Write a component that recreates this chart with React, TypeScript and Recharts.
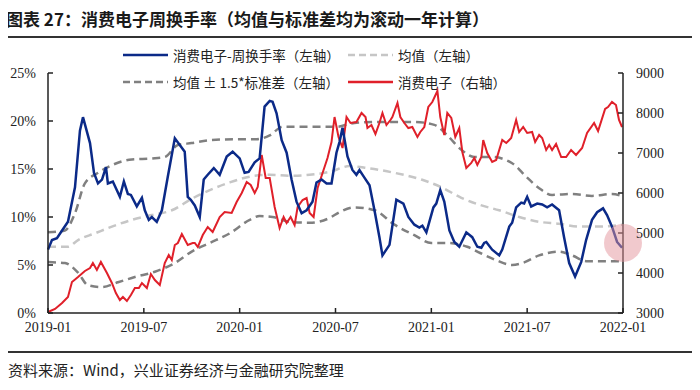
import React from "react";
import { LineChart, Line, XAxis, YAxis, ReferenceDot } from "recharts";

// x is months since 2019-01
const xTicks = [0, 6, 12, 18, 24, 30, 36];
const xTickLabels = ["2019-01", "2019-07", "2020-01", "2020-07", "2021-01", "2021-07", "2022-01"];
const leftTicks = [0, 5, 10, 15, 20, 25];
const rightTicks = [3000, 4000, 5000, 6000, 7000, 8000, 9000];

// 消费电子-周换手率 (%)
const turnover: [number, number][] = [
  [0, 6.6], [0.25, 7.6], [0.56, 7.8], [0.88, 8.6], [1.25, 9.5], [1.69, 13.1], [2.0, 19], [2.19, 20.4],
  [2.63, 17.7], [2.88, 14.6], [3.13, 13.5], [3.38, 13.9], [3.63, 15.2], [3.75, 13.5], [4.06, 13.7],
  [4.5, 12.1], [4.75, 13.7], [5.0, 12.4], [5.19, 12.3], [5.56, 11.1], [5.88, 12.0], [6.06, 10.7],
  [6.31, 9.7], [6.5, 10.0], [6.81, 9.5], [7.13, 10.7], [7.5, 14.2], [7.94, 18.2], [8.25, 17.5],
  [8.56, 16.8], [8.75, 12.1], [8.94, 11.8], [9.19, 11.2], [9.5, 10.0], [9.75, 13.9], [10.0, 14.4],
  [10.38, 15.1], [10.75, 14.4], [11.19, 16.3], [11.56, 16.8], [12.0, 16.1], [12.31, 14.6], [12.56, 14.7],
  [12.94, 15.7], [13.25, 16.1], [13.56, 21.5], [13.88, 22.1], [14.06, 22.0], [14.31, 20.8], [14.63, 18.0],
  [14.94, 16.7], [15.25, 13.9], [15.56, 11.6], [15.88, 10.4], [16.19, 10.7], [16.56, 11.6], [16.81, 13.6],
  [17.13, 13.9], [17.44, 13.5], [17.75, 13.5], [18.06, 16.7], [18.25, 17.8], [18.44, 19.3], [18.75, 16.3],
  [19.06, 14.9], [19.31, 14.4], [19.5, 14.9], [19.81, 14.1], [20.13, 13.3], [20.44, 10.7], [20.75, 7.9],
  [20.94, 6.0], [21.38, 7.1], [21.81, 11.8], [22.25, 11.4], [22.56, 10.0], [22.94, 9.2], [23.25, 8.9],
  [23.44, 9.1], [23.69, 8.4], [24.13, 11.0], [24.31, 11.4], [24.56, 12.8], [24.81, 11.6], [25.13, 8.6],
  [25.44, 7.4], [25.75, 6.9], [26.19, 8.4], [26.56, 7.9], [26.88, 6.9], [27.13, 6.8], [27.31, 7.3],
  [27.44, 7.4], [27.81, 6.6], [28.25, 6.0], [28.44, 6.6], [28.88, 9.0], [29.06, 9.4], [29.31, 11.0],
  [29.63, 11.5], [29.81, 11.4], [30.0, 12.1], [30.25, 11.1], [30.63, 11.4], [30.94, 11.3], [31.25, 11.0],
  [31.56, 11.3], [32.0, 10.7], [32.31, 7.9], [32.63, 5.2], [33.0, 3.8], [33.38, 5.3], [33.69, 7.6],
  [34.06, 9.7], [34.38, 10.5], [34.75, 10.9], [35.0, 10.2], [35.31, 9.0], [35.63, 7.4], [35.94, 6.8],
];

// 均值 (%)
const meanLine: [number, number][] = [
  [0, 6.9], [1.25, 6.9], [1.88, 7.6], [2.94, 8.3], [4.0, 9.0], [5.25, 9.7], [6.5, 10.2], [7.75, 10.7],
  [9.0, 11.9], [10.13, 12.8], [11.38, 13.6], [12.63, 14.2], [13.88, 14.4], [15.13, 14.3], [16.38, 14.4],
  [17.63, 14.7], [18.88, 15.3], [20.0, 15.1], [21.69, 14.6], [23.38, 13.9], [24.63, 13.1], [25.88, 12.0],
  [27.06, 11.25], [28.25, 10.7], [29.5, 10.0], [30.75, 9.5], [32.0, 9.3], [33.25, 9.0], [34.5, 9.0],
  [35.94, 9.2],
];

// 均值 + 1.5*标准差 (%)
const upperBand: [number, number][] = [
  [0, 8.4], [1.06, 8.6], [1.69, 10.4], [2.31, 13.5], [3.13, 14.6], [4.0, 15.4], [5.25, 16.0], [6.5, 16.1],
  [7.31, 16.25], [8.13, 17.5], [9.0, 17.7], [10.13, 18.0], [11.81, 18.1], [13.06, 18.1], [13.88, 18.5],
  [14.69, 19.4], [16.19, 19.4], [18.06, 19.4], [19.19, 19.8], [20.88, 19.9], [22.94, 19.9], [24.19, 19.6],
  [25.0, 18.5], [25.88, 17.0], [26.69, 16.25], [27.81, 16.25], [29.06, 15.6], [29.94, 14.2], [30.75, 13.0],
  [31.56, 12.3], [32.81, 12.4], [34.06, 12.2], [35.31, 12.4], [35.94, 12.2],
];

// 均值 - 1.5*标准差 (%)
const lowerBand: [number, number][] = [
  [0, 5.3], [1.06, 5.2], [1.88, 4.2], [2.5, 2.9], [3.38, 2.7], [4.38, 3.2], [5.44, 3.75], [6.69, 4.3],
  [7.94, 5.2], [9.0, 6.4], [10.13, 7.3], [11.38, 8.3], [12.63, 9.7], [13.25, 10.1], [14.06, 10.0],
  [15.13, 9.5], [16.38, 9.4], [17.63, 9.9], [18.25, 10.5], [19.19, 11.0], [20.44, 10.7], [21.69, 9.2],
  [22.94, 8.1], [24.0, 7.3], [25.0, 7.3], [26.25, 6.9], [27.06, 6.25], [28.06, 5.5], [29.06, 5.0],
  [29.69, 5.2], [30.75, 6.0], [32.0, 6.4], [32.81, 6.0], [33.69, 5.4], [34.94, 5.4], [35.94, 5.4],
];

// 消费电子指数 (右轴)
const index: [number, number][] = [
  [0, 3025], [0.44, 3100], [0.88, 3250], [1.25, 3400], [1.5, 3775], [1.88, 3900], [2.31, 4050], [2.63, 4125],
  [2.81, 4250], [3.06, 4075], [3.31, 4275], [3.69, 4000], [4.0, 3750], [4.25, 3500], [4.5, 3325], [4.69, 3400],
  [4.94, 3300], [5.19, 3450], [5.44, 3625], [5.69, 3625], [5.88, 3750], [6.19, 3625], [6.44, 3975], [6.69, 3825],
  [7.0, 3700], [7.31, 4250], [7.56, 4450], [7.75, 4325], [7.94, 4700], [8.13, 4750], [8.38, 4975], [8.75, 4700],
  [9.06, 4750], [9.19, 4750], [9.38, 4650], [9.69, 4950], [10.0, 5150], [10.31, 5025], [10.75, 5400],
  [11.06, 5525], [11.5, 5500], [11.81, 5775], [12.13, 6000], [12.44, 6275], [12.69, 6200], [12.94, 6000],
  [13.13, 6150], [13.38, 6950], [13.63, 6375], [13.88, 6375], [14.19, 5650], [14.5, 5125], [14.75, 5400],
  [14.94, 5250], [15.19, 5400], [15.44, 5200], [15.63, 5650], [15.94, 5825], [16.19, 5875], [16.38, 5500],
  [16.63, 5400], [16.88, 6125], [17.19, 6500], [17.5, 6875], [17.75, 7275], [17.94, 7900], [18.19, 7400],
  [18.44, 7125], [18.69, 7900], [18.94, 7750], [19.31, 7775], [19.63, 8000], [19.88, 7900], [20.0, 7625],
  [20.25, 7700], [20.5, 7475], [20.75, 7750], [20.94, 8000], [21.19, 7700], [21.44, 7825], [21.56, 7900],
  [21.88, 8250], [22.06, 7900], [22.31, 7750], [22.56, 7625], [22.81, 7650], [23.13, 7400], [23.31, 7525],
  [23.56, 7650], [23.81, 8150], [24.06, 8275], [24.38, 8550], [24.56, 7900], [24.81, 7450], [25.0, 8000],
  [25.25, 7875], [25.5, 7400], [25.75, 7625], [25.94, 7025], [26.19, 6625], [26.5, 6750], [26.69, 6875],
  [26.88, 6700], [27.13, 6900], [27.25, 7325], [27.5, 7000], [27.81, 6775], [28.06, 6825], [28.44, 7325],
  [28.69, 7250], [29.0, 7375], [29.31, 7825], [29.5, 7525], [29.75, 7650], [30.0, 7500], [30.31, 7525],
  [30.5, 7275], [30.75, 7450], [30.94, 7375], [31.19, 7075], [31.38, 7200], [31.56, 7075], [31.81, 7225],
  [32.13, 6900], [32.44, 6900], [32.75, 7075], [33.06, 6950], [33.44, 7125], [33.75, 7500], [34.19, 7750],
  [34.44, 7550], [34.88, 8100], [35.06, 8150], [35.31, 8275], [35.56, 8200], [35.75, 7825], [35.94, 7650],
];

const toRows = (pts: [number, number][]) => pts.map(([t, v]) => ({ t, v }));

const BLUE = "#0b2a88";
const RED = "#e0202a";
const LIGHT = "#c6c6c6";
const DARK = "#808080";
const cjk = '"Noto Sans CJK SC", sans-serif';
const serif = '"Liberation Serif", "Times New Roman", serif';

const legendItems = [
  { label: "消费电子-周换手率（左轴）", color: BLUE, dash: "", x: 123, y: 55 },
  { label: "均值（左轴）", color: LIGHT, dash: "7 4", x: 348, y: 55 },
  { label: "均值 ± 1.5*标准差（左轴）", color: DARK, dash: "7 4", x: 123, y: 82 },
  { label: "消费电子（右轴）", color: RED, dash: "", x: 348, y: 82 },
];

const tickStyle = { fontFamily: serif, fontSize: 14, fill: "#222" };

export default function App() {
  return (
    <div
      style={{
        position: "relative",
        width: 700,
        height: 390,
        margin: -8,
        background: "#fff",
        overflow: "hidden",
      }}
    >
      <style>{`.recharts-cartesian-axis-tick-value, .recharts-cartesian-axis-tick-value tspan { font-family: ${serif}; font-size: 14px; }`}</style>
      <div
        style={{
          position: "absolute",
          left: 6,
          top: 6,
          fontFamily: cjk,
          fontWeight: 700,
          fontSize: 17,
          color: "#1a1a1a",
          whiteSpace: "nowrap",
        }}
      >
        图表 27：消费电子周换手率（均值与标准差均为滚动一年计算）
      </div>
      <div style={{ position: "absolute", left: 4, top: 36, width: 692, height: 2, background: "#333" }} />

      {legendItems.map((it) => (
        <div key={it.label}>
          <svg style={{ position: "absolute", left: it.x, top: it.y - 3 }} width={45} height={6}>
            <line x1={0} y1={3} x2={45} y2={3} stroke={it.color} strokeWidth={2.5} strokeDasharray={it.dash} />
          </svg>
          <div
            style={{
              position: "absolute",
              left: it.x + 50,
              top: it.y - 10,
              fontFamily: cjk,
              fontSize: 13.5,
              lineHeight: "20px",
              color: "#222",
              whiteSpace: "nowrap",
            }}
          >
            {it.label}
          </div>
        </div>
      ))}

      <div style={{ position: "absolute", left: 0, top: 0 }}>
        <LineChart width={700} height={390} margin={{ top: 73, right: 30, bottom: 47, left: 8 }}>
          <XAxis
            dataKey="t"
            type="number"
            domain={[0, 36]}
            ticks={xTicks}
            tickFormatter={(v: number) => xTickLabels[xTicks.indexOf(v)]}
            allowDuplicatedCategory={false}
            height={30}
            tickSize={-5}
            tickMargin={14}
            axisLine={{ stroke: "#222", strokeWidth: 1.5 }}
            tickLine={{ stroke: "#222", strokeWidth: 1.5 }}
            tick={tickStyle}
            interval={0}
          />
          <YAxis
            yAxisId="l"
            domain={[0, 25]}
            ticks={leftTicks}
            tickFormatter={(v: number) => `${v}%`}
            width={40}
            tickSize={-5}
            tickMargin={17}
            axisLine={{ stroke: "#222", strokeWidth: 1.5 }}
            tickLine={{ stroke: "#222", strokeWidth: 1.5 }}
            tick={tickStyle}
            interval={0}
          />
          <YAxis
            yAxisId="r"
            orientation="right"
            domain={[3000, 9000]}
            ticks={rightTicks}
            width={47}
            tickSize={-5}
            tickMargin={18}
            axisLine={{ stroke: "#222", strokeWidth: 1.5 }}
            tickLine={{ stroke: "#222", strokeWidth: 1.5 }}
            tick={{ ...tickStyle, textAnchor: "start" }}
            interval={0}
          />
          <Line
            yAxisId="l"
            data={toRows(upperBand)}
            dataKey="v"
            type="monotone"
            stroke={DARK}
            strokeWidth={2.5}
            strokeDasharray="8 5"
            dot={false}
            isAnimationActive={false}
          />
          <Line
            yAxisId="l"
            data={toRows(lowerBand)}
            dataKey="v"
            type="monotone"
            stroke={DARK}
            strokeWidth={2.5}
            strokeDasharray="8 5"
            dot={false}
            isAnimationActive={false}
          />
          <Line
            yAxisId="l"
            data={toRows(meanLine)}
            dataKey="v"
            type="monotone"
            stroke={LIGHT}
            strokeWidth={2.5}
            strokeDasharray="8 5"
            dot={false}
            isAnimationActive={false}
          />
          <Line
            yAxisId="r"
            data={toRows(index)}
            dataKey="v"
            type="linear"
            stroke={RED}
            strokeWidth={2}
            dot={false}
            isAnimationActive={false}
          />
          <Line
            yAxisId="l"
            data={toRows(turnover)}
            dataKey="v"
            type="linear"
            stroke={BLUE}
            strokeWidth={2.5}
            dot={false}
            isAnimationActive={false}
          />
          <ReferenceDot
            yAxisId="l"
            x={36}
            y={7.3}
            r={19}
            fill="#e4939c"
            fillOpacity={0.5}
            stroke="none"
          />
        </LineChart>
      </div>

      <div style={{ position: "absolute", left: 4, top: 351, width: 692, height: 1.5, background: "#333" }} />
      <div
        style={{
          position: "absolute",
          left: 8,
          top: 360,
          fontFamily: cjk,
          fontSize: 15,
          lineHeight: "20px",
          color: "#222",
          whiteSpace: "nowrap",
        }}
      >
        资料来源：Wind，兴业证券经济与金融研究院整理
      </div>
    </div>
  );
}
